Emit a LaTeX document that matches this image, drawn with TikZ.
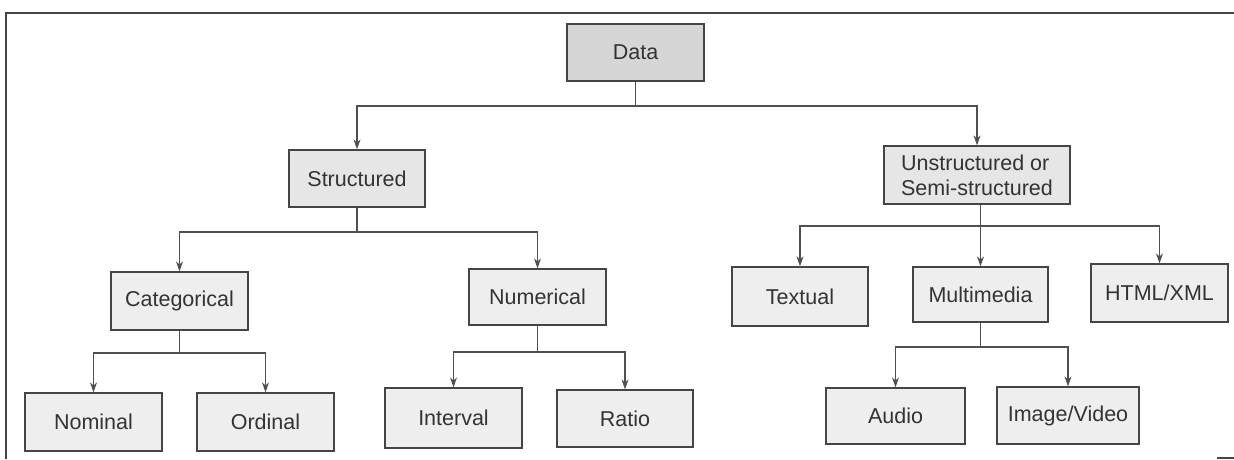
\documentclass[tikz,border=0pt]{standalone}
\usepackage{fontspec}
\setmainfont{Liberation Sans}
\usetikzlibrary{arrows.meta}
\definecolor{boxline}{HTML}{454545}
\definecolor{txt}{HTML}{333333}
\definecolor{conn}{HTML}{505050}
\definecolor{fillA}{HTML}{D6D6D6}
\definecolor{fillB}{HTML}{E6E6E6}
\definecolor{fillC}{HTML}{EEEEEE}
\tikzset{
  box/.style={draw=boxline, line width=1.3pt, fill=fillC, text=txt,
    minimum width=137pt, minimum height=57pt, inner sep=2pt,
    font=\fontsize{21.5}{25}\selectfont},
  topbox/.style={box, fill=fillA},
  midbox/.style={box, fill=fillB},
  conline/.style={draw=conn, line width=1.1pt},
  arr/.style={conline, -{Stealth[length=10pt,width=7pt]}},
  frameline/.style={draw=boxline, line width=1.4pt}
}
\begin{document}
\begin{tikzpicture}[x=1pt,y=-1pt]
\useasboundingbox (0,0) rectangle (1234,459);
% frame
\draw[frameline] (6,459) -- (6,13) -- (1234,13);
\draw[frameline] (1217,458) -- (1234,458);

% nodes
\node[topbox] (data) at (635.5,52.5) {Data};
\node[midbox, minimum width=136pt] (struct) at (357,178.5) {Structured};
\node[midbox, minimum width=186pt, minimum height=58pt, align=left] (unstr) at (977,175) {Unstructured or\\Semi-structured};
\node[box, minimum height=58pt] (cat) at (179.5,301) {Categorical};
\node[box, minimum height=56pt] (num) at (537.5,297) {Numerical};
\node[box, minimum width=136pt, minimum height=59pt] (text) at (800,296.5) {Textual};
\node[box, minimum width=135pt, minimum height=55pt] (multi) at (980.5,294.5) {Multimedia};
\node[box, minimum height=58pt] (html) at (1159.5,293) {HTML/XML};
\node[box, minimum height=58pt] (nom) at (93.5,422) {Nominal};
\node[box, minimum height=58pt] (ord) at (265.5,422) {Ordinal};
\node[box, minimum height=60pt] (int) at (453.5,418) {Interval};
\node[box, minimum width=136pt] (ratio) at (625,418.5) {Ratio};
\node[box, minimum width=139pt, minimum height=56pt] (audio) at (895.5,416) {Audio};
\node[box, minimum width=142pt, minimum height=57pt] (imgv) at (1068,415.5) {Image/Video};

% bus levels
\coordinate (y1) at (0,106);
\coordinate (y2) at (0,232);
\coordinate (y3) at (0,226);
\coordinate (y4) at (0,353);
\coordinate (y5) at (0,352);
\coordinate (y6) at (0,347);

% Data
\draw[conline] (data.south) -- (data.south |- y1) coordinate (b1);
\draw[arr] (b1) -| (struct.north);
\draw[arr] (b1) -| (unstr.north);
% Structured
\draw[conline] (struct.south) -- (struct.south |- y2) coordinate (b2);
\draw[arr] (b2) -| (cat.north);
\draw[arr] (b2) -| (num.north);
% Unstructured
\draw[conline] ([xshift=3.5pt]unstr.south) -- ([xshift=3.5pt]unstr.south |- y3) coordinate (b3);
\draw[arr] (b3) -| (text.north);
\draw[arr] (b3) -| (multi.north);
\draw[arr] (b3) -| (html.north);
% Categorical
\draw[conline] (cat.south) -- (cat.south |- y4) coordinate (b4);
\draw[arr] (b4) -| (nom.north);
\draw[arr] (b4) -| (ord.north);
% Numerical
\draw[conline] (num.south) -- (num.south |- y5) coordinate (b5);
\draw[arr] (b5) -| (int.north);
\draw[arr] (b5) -| (ratio.north);
% Multimedia
\draw[conline] (multi.south) -- (multi.south |- y6) coordinate (b6);
\draw[arr] (b6) -| (audio.north);
\draw[arr] (b6) -| (imgv.north);
\end{tikzpicture}
\end{document}
